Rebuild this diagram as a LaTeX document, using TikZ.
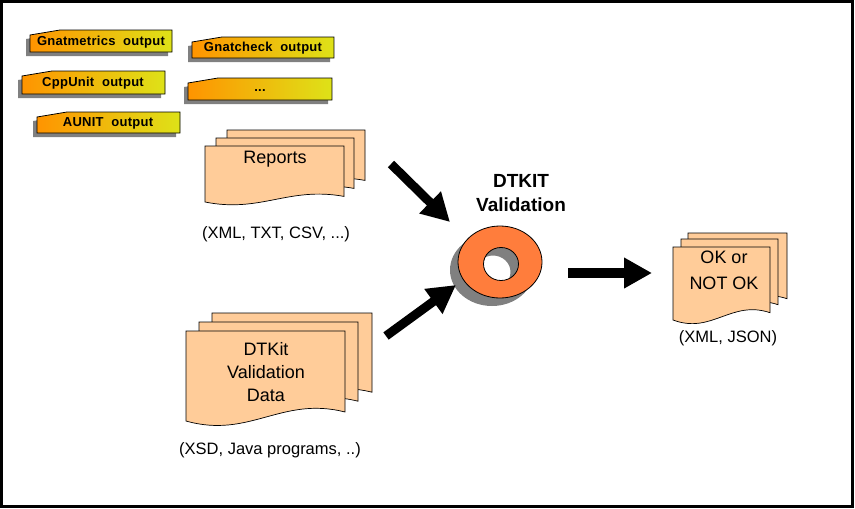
\documentclass[tikz,border=0pt]{standalone}
\usepackage{fontspec}
\setmainfont{Liberation Sans}
\usetikzlibrary{arrows.meta}
\definecolor{docfill}{RGB}{255,204,153}
\definecolor{tabL}{RGB}{255,148,0}
\definecolor{tabM}{RGB}{252,178,8}
\definecolor{tabR}{RGB}{222,226,24}
\definecolor{ringfill}{RGB}{255,125,60}
\definecolor{shadowgray}{RGB}{128,128,128}
\tikzset{
  docstyle/.style={fill=docfill, draw=black, line width=0.7pt},
  tabstyle/.style={draw=black, line width=0.8pt, left color=tabL, middle color=tabM, right color=tabR},
  tabtext/.style={font=\bfseries\fontsize{13}{15}\selectfont\addfontfeature{LetterSpace=2}, inner sep=0pt},
  doctext/.style={font=\fontsize{18}{23}\selectfont, align=center, inner sep=0pt},
  labeltext/.style={font=\fontsize{16.5}{19}\selectfont, inner sep=0pt},
  titletext/.style={font=\bfseries\fontsize{19}{24}\selectfont, align=center, inner sep=0pt},
  bigarrow/.style={line width=9pt, -{Triangle[length=28pt,width=29pt]}},
}
\newcommand{\dtdoc}[4]{%
  \filldraw[docstyle] (#1,#2) -- ({#1+#3},#2) -- ({#1+#3},{#2+0.9*#4})
    .. controls ({#1+0.6*#3},{#2+0.72*#4}) and ({#1+0.4*#3},{#2+1.2*#4}) .. (#1,{#2+#4}) -- cycle;}
\newcommand{\dttab}[4]{%
  \fill[shadowgray] ({#1-4},{#2+9}) -- ({#1+26},{#2+4}) -- ({#3-4},{#2+4}) -- ({#3-4},{#4+4}) -- ({#1-4},{#4+4}) -- cycle;
  \draw[tabstyle] (#1,{#2+5}) -- ({#1+30},#2) -- (#3,#2) -- (#3,#4) -- (#1,#4) -- cycle;}
\begin{document}
\begin{tikzpicture}[x=1pt,y=-1pt]
\useasboundingbox (0,0) rectangle (855,509);
\fill[white] (0,0) rectangle (855,509);
\draw[line width=3pt] (1.5,1.5) rectangle (852.5,506);

% tabs
\dttab{30}{30}{172}{52}
\node[tabtext] (gm) at (101,42) {Gnatmetrics\ \ output};
\dttab{192}{37}{334}{58}
\node[tabtext] (gc) at (263,48) {Gnatcheck\ \ output};
\dttab{22}{71}{165}{94}
\node[tabtext] (cu) at (93,83) {CppUnit\ \ output};
\dttab{188}{78}{332}{100}
\node[tabtext] (dots) at (260,91) {...};
\dttab{37}{112}{180}{133}
\node[tabtext] (au) at (108,123) {AUNIT\ \ output};

% Reports stack
\dtdoc{227}{130}{138}{56}
\dtdoc{216}{138}{138}{56}
\dtdoc{205}{146}{139}{56}
\node[doctext] (rep) at (275,159) {Reports};
\node[labeltext] (replab) at (276,234) {(XML, TXT, CSV, ...)};

% Validation data stack
\dtdoc{212}{313}{160}{88}
\dtdoc{199}{322}{159}{88}
\dtdoc{186}{331}{159}{90}
\node[doctext] (vd) at (266,372) {DTKit\\Validation\\Data};
\node[labeltext] (vdlab) at (270,450) {(XSD, Java programs, ..)};

% Output stack
\dtdoc{688}{233}{99}{73}
\dtdoc{681}{239}{97}{73}
\dtdoc{673}{247}{97}{73}
\node[doctext, font=\fontsize{18}{26}\selectfont] (ok) at (724,270) {OK or\\NOT OK};
\node[labeltext] (oklab) at (728,338) {(XML, JSON)};

% ring
\fill[shadowgray, even odd rule] (492,270) ellipse [x radius=42pt, y radius=36pt]
   (493,272) ellipse [x radius=17.5pt, y radius=16.5pt];
\filldraw[fill=ringfill, draw=black, line width=0.8pt, even odd rule]
   (500,262) ellipse [x radius=42pt, y radius=36pt]
   (501,264) ellipse [x radius=17.5pt, y radius=16.5pt];
\coordinate (ring) at (500,262);
\node[titletext] (title) at (521,193) {DTKIT\\Validation};

% arrows
\coordinate (a1s) at (391,164);
\coordinate (a1e) at (450,222);
\coordinate (a2s) at (386,336);
\coordinate (a2e) at (456,285);
\coordinate (a3s) at (568,273);
\coordinate (a3e) at (652,273);
\draw[bigarrow] (a1s) -- (a1e);
\draw[bigarrow] (a2s) -- (a2e);
\draw[bigarrow, line width=10pt] (a3s) -- (a3e);
\end{tikzpicture}
\end{document}
